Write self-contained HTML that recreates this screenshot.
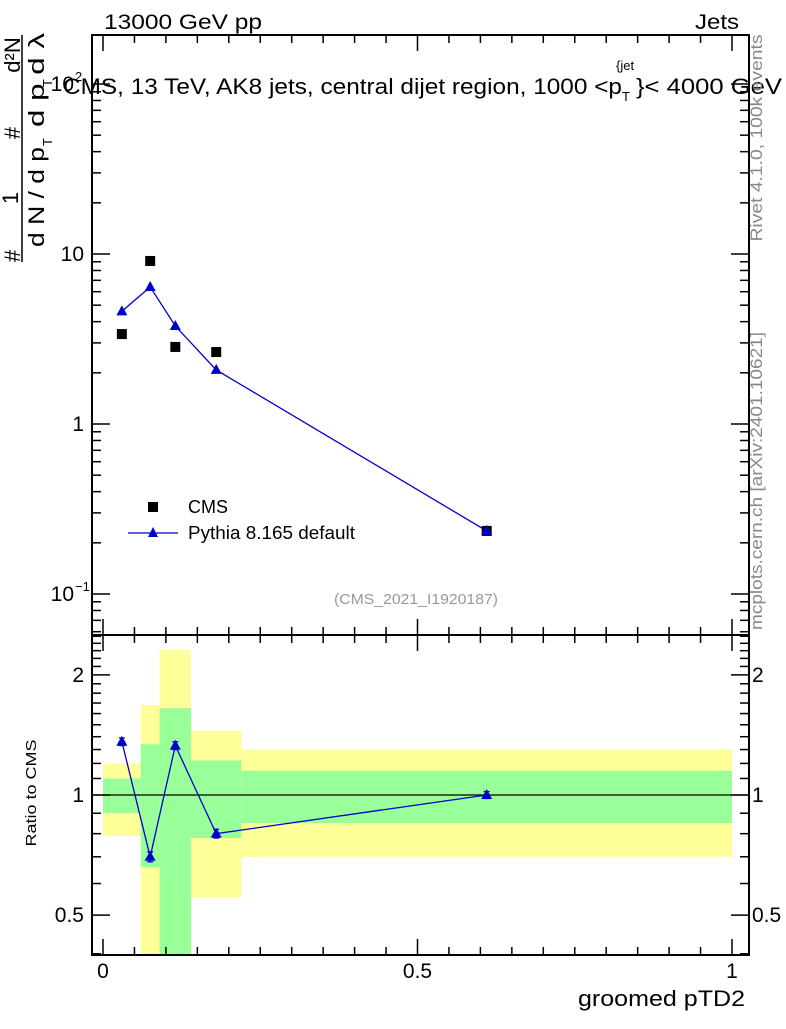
<!DOCTYPE html>
<html><head><meta charset="utf-8"><style>
body{margin:0;background:#fff}
svg{font-family:"Liberation Sans",sans-serif}
</style></head><body>
<svg id="c" width="786" height="1024" viewBox="0 0 786 1024" xmlns="http://www.w3.org/2000/svg">
<g id="bands"></g>
<g id="axes"></g>
<g id="marks"></g>
<text x="104" y="29" font-size="21" textLength="158" lengthAdjust="spacingAndGlyphs">13000 GeV pp</text>
<text x="695" y="29" font-size="21" textLength="44" lengthAdjust="spacingAndGlyphs">Jets</text>
<g>
<text x="63" y="94" font-size="22" textLength="559" lengthAdjust="spacingAndGlyphs">CMS, 13 TeV, AK8 jets, central dijet region, 1000 &lt;p</text>
<text x="616" y="70" font-size="13">{jet</text>
<text x="622" y="101" font-size="13">T</text>
<text x="636" y="94" font-size="22" textLength="146" lengthAdjust="spacingAndGlyphs">}&lt; 4000 GeV</text>
</g>
<g>
<line x1="22" y1="35" x2="22" y2="262" stroke="#000" stroke-width="1.5"/>
<text transform="translate(20,256) rotate(-90)" font-size="22" text-anchor="middle">#</text>
<text transform="translate(18,198) rotate(-90)" font-size="22" text-anchor="middle">1</text>
<text transform="translate(44,197) rotate(-90)" font-size="22" text-anchor="middle" textLength="100" lengthAdjust="spacingAndGlyphs">d N / d p</text>
<text transform="translate(52,142) rotate(-90)" font-size="13" text-anchor="middle">T</text>
<text transform="translate(20,133) rotate(-90)" font-size="22" text-anchor="middle">#</text>
<text transform="translate(20,55) rotate(-90)" font-size="22" text-anchor="middle">d²N</text>
<text transform="translate(44,80) rotate(-90)" font-size="22" text-anchor="middle" textLength="94" lengthAdjust="spacingAndGlyphs">d p    d λ</text>
<text transform="translate(52,83) rotate(-90)" font-size="13" text-anchor="middle">T</text>
</g>
<text transform="translate(762,138) rotate(-90)" font-size="17" fill="#888" text-anchor="middle" textLength="207" lengthAdjust="spacingAndGlyphs">Rivet 4.1.0,  100k events</text>
<text transform="translate(762,481) rotate(-90)" font-size="17" fill="#888" text-anchor="middle" textLength="298" lengthAdjust="spacingAndGlyphs">mcplots.cern.ch [arXiv:2401.10621]</text>
<text x="416" y="604" font-size="15" fill="#999" text-anchor="middle" textLength="164" lengthAdjust="spacingAndGlyphs">(CMS_2021_I1920187)</text>
<rect x="148" y="502" width="10" height="10" fill="#000"/>
<text x="188" y="513" font-size="18">CMS</text>
<line x1="128" y1="533" x2="178" y2="533" stroke="#00c" stroke-width="1.2"/>
<path d="M153,527 L158,537 L148,537 Z" fill="#00c"/>
<text x="188" y="539" font-size="18" textLength="167" lengthAdjust="spacingAndGlyphs">Pythia 8.165 default</text>
<text transform="translate(36,793) rotate(-90)" font-size="15" text-anchor="middle" textLength="107" lengthAdjust="spacingAndGlyphs">Ratio to CMS</text>
<text x="745" y="1006" font-size="22" text-anchor="end" textLength="167" lengthAdjust="spacingAndGlyphs">groomed pTD2</text>
</svg>
<script>
const binEdges=[0,0.06,0.09,0.14,0.22,1.0];
const xVals=[0.03,0.075,0.115,0.18,0.61];
const cmsVals=[3.38,9.1,2.84,2.65,0.235];
const pyVals=[4.6,6.4,3.77,2.08,0.235];
const ratioVals=[1.36,0.70,1.33,0.80,1.0];
const ratioErr=[0.03,0.02,0.03,0.02,0.02];
const yellowHi=[1.20,1.68,2.31,1.45,1.30];
const yellowLo=[0.79,0.3,0.3,0.555,0.70];
const greenHi=[1.10,1.34,1.65,1.22,1.15];
const greenLo=[0.90,0.66,0.3,0.78,0.85];
const xTicks=[0,0.5,1];
const xTickLabels=["0","0.5","1"];
const mainTicks=[0.1,1,10,100];
const mainTickLabels=["10","1","10","10"];
const mainTickExp=["−1","","","2"];
const ratioTicks=[0.5,1,2];
const ratioTickLabels=["0.5","1","2"];

const L=92,R=749,T=35,M=635,B=955;
const X=v=>103+629*v;
const Y=v=>424-170*Math.log10(v);
const YR=v=>Math.min(B,Math.max(M,795-399*Math.log10(v)));
const NS="http://www.w3.org/2000/svg";
function mk(p,tag,at){const e=document.createElementNS(NS,tag);for(const k in at)e.setAttribute(k,at[k]);p.appendChild(e);return e;}
const bands=document.getElementById('bands'),axes=document.getElementById('axes'),marks=document.getElementById('marks');
for(let i=0;i<xVals.length;i++){
 const x0=X(binEdges[i]),x1=X(binEdges[i+1]);
 let r=mk(bands,'rect',{x:x0,y:YR(yellowHi[i]),width:x1-x0,height:YR(yellowLo[i])-YR(yellowHi[i]),fill:'#ffff99'});
 
 
 r=mk(bands,'rect',{x:x0,y:YR(greenHi[i]),width:x1-x0,height:YR(greenLo[i])-YR(greenHi[i]),fill:'#99ff99'});
 
 
}
let f=mk(axes,'rect',{x:L,y:T,width:R-L,height:M-T,fill:'none',stroke:'#000','stroke-width':2});


f=mk(axes,'rect',{x:L,y:M,width:R-L,height:B-M,fill:'none',stroke:'#000','stroke-width':2});


let ln=mk(axes,'line',{x1:L,x2:R,y1:YR(1),y2:YR(1),stroke:'#000','stroke-width':1.2});


for(let v=0;v<=1.0001;v+=0.05){
 const maj=Math.abs(v*2-Math.round(v*2))<1e-6, len=maj?16:8;
 [[T,1],[M,1],[M,-1],[B,-1]].forEach(([y,d])=>mk(axes,'line',{x1:X(v),x2:X(v),y1:y,y2:y+d*len,stroke:'#000','stroke-width':1.5}));
}
xTicks.forEach((v,i)=>{const t=mk(axes,'text',{x:X(v),y:978,'font-size':21,'text-anchor':'middle'});t.textContent=xTickLabels[i];
 
 });
for(let d=-2;d<=2;d++)for(let m=1;m<=9;m++){const v=m*Math.pow(10,d),y=Y(v);if(y<T||y>M)continue;const len=m==1?18:9;
 mk(axes,'line',{x1:L,x2:L+len,y1:y,y2:y,stroke:'#000','stroke-width':1.5});mk(axes,'line',{x1:R,x2:R-len,y1:y,y2:y,stroke:'#000','stroke-width':1.5});}
mainTicks.forEach((v,i)=>{const t=mk(axes,'text',{x:mainTickExp[i]?74:84,y:Y(v)+7,'font-size':21,'text-anchor':'end'});t.textContent=mainTickLabels[i];
 if(mainTickExp[i]){const s=mk(axes,'text',{x:75,y:Y(v)-3,'font-size':13});s.textContent=mainTickExp[i];}
 
 });
for(let v=0.3;v<=2.6;v+=0.1){const y=YR(v);if(y<=M||y>=B)continue;const maj=ratioTicks.some(r=>Math.abs(r-v)<1e-6),len=maj?18:9;
 mk(axes,'line',{x1:L,x2:L+len,y1:y,y2:y,stroke:'#000','stroke-width':1.5});mk(axes,'line',{x1:R,x2:R-len,y1:y,y2:y,stroke:'#000','stroke-width':1.5});}
ratioTicks.forEach((v,i)=>{let t=mk(axes,'text',{x:84,y:YR(v)+7,'font-size':21,'text-anchor':'end'});t.textContent=ratioTickLabels[i];
 
 
 t=mk(axes,'text',{x:752,y:YR(v)+7,'font-size':21});t.textContent=ratioTickLabels[i];
 
 });
function tri(x,y,name){const p=mk(marks,'path',{d:`M${x},${y-6} L${x+5.5},${y+4} L${x-5.5},${y+4} Z`,fill:'#00c'});
 
 }
let pl=mk(marks,'polyline',{points:xVals.map((x,i)=>X(x)+','+Y(pyVals[i])).join(' '),fill:'none',stroke:'#00c','stroke-width':1.3});


xVals.forEach((x,i)=>{const r=mk(marks,'rect',{x:X(x)-5,y:Y(cmsVals[i])-5,width:10,height:10,fill:'#000'});
 
 
 tri(X(x),Y(pyVals[i]),'pythia-point');});
pl=mk(marks,'polyline',{points:xVals.map((x,i)=>X(x)+','+YR(ratioVals[i])).join(' '),fill:'none',stroke:'#00c','stroke-width':1.3});


xVals.forEach((x,i)=>{const y1=YR(ratioVals[i]+ratioErr[i]),y2=YR(ratioVals[i]-ratioErr[i]);
 mk(marks,'line',{x1:X(x),x2:X(x),y1:y1,y2:y2,stroke:'#00c','stroke-width':1.3});
 mk(marks,'line',{x1:X(x)-3,x2:X(x)+3,y1:y1,y2:y1,stroke:'#00c','stroke-width':1.3});
 mk(marks,'line',{x1:X(x)-3,x2:X(x)+3,y1:y2,y2:y2,stroke:'#00c','stroke-width':1.3});
 tri(X(x),YR(ratioVals[i]),'ratio-point');});
</script>
</body></html>
